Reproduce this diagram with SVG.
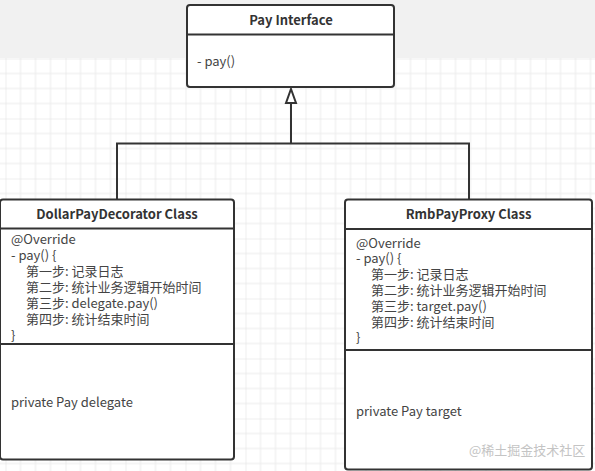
<svg xmlns="http://www.w3.org/2000/svg" width="595" height="471" viewBox="0 0 595 471">
<defs>
<pattern id="grid" patternUnits="userSpaceOnUse" x="5.5" y="58.5" width="60" height="60">
<rect width="60" height="60" fill="#ffffff"/>
<path d="M15 0V60M30 0V60M45 0V60M0 15H60M0 30H60M0 45H60" stroke="#ececec" stroke-width="1" fill="none"/>
<path d="M0 0V60M0 0H60" stroke="#e0e0e0" stroke-width="1" fill="none"/>
</pattern>
<marker id="tri" markerUnits="userSpaceOnUse" markerWidth="14" markerHeight="18" refX="7" refY="2" orient="auto-start-reverse" viewBox="0 0 14 18">
</marker>
</defs>
<style>
.box{fill:#ffffff;stroke:#333333;stroke-width:2}
.div{stroke:#333333;stroke-width:2}
.title{font-family:"Noto Sans CJK SC","Noto Sans",sans-serif;font-size:13px;font-weight:bold;fill:#333333;text-anchor:middle}
.txt{font-family:"Noto Sans CJK SC","Noto Sans",sans-serif;font-size:13px;fill:#444444}
.conn{fill:none;stroke:#333333;stroke-width:2}
.wm{font-family:"Noto Sans CJK SC",sans-serif;font-size:13px;fill:#c4c4c4}
</style>
<rect x="0" y="0" width="595" height="471" fill="#f1f1f1"/>
<rect x="0" y="58" width="595" height="413" fill="url(#grid)"/>

<g id="connectors">
<path class="conn" d="M117 199V143.5H469V199"/>
<path class="conn" d="M291 143.5V103"/>
<path d="M291 89L296 103H286Z" fill="#ffffff" stroke="#333333" stroke-width="2" stroke-linejoin="miter"/>
</g>

<g id="pay-interface">
<rect class="box" x="187" y="5" width="207" height="82" rx="3"/>
<line class="div" x1="187" y1="34.5" x2="394" y2="34.5"/>
<text class="title" x="291" y="24.5">Pay Interface</text>
<text class="txt" x="197" y="66">- pay()</text>
</g>

<g id="dollar-pay-decorator">
<rect class="box" x="0" y="199.5" width="234" height="260" rx="3"/>
<line class="div" x1="0" y1="228.5" x2="234" y2="228.5"/>
<line class="div" x1="0" y1="344" x2="234" y2="344"/>
<text class="title" x="117" y="219">DollarPayDecorator Class</text>
<text class="txt" x="11" y="243.5">@Override</text>
<text class="txt" x="11" y="259.5">- pay() {</text>
<text class="txt" x="26" y="275.5">第一步: 记录日志</text>
<text class="txt" x="26" y="291.5">第二步: 统计业务逻辑开始时间</text>
<text class="txt" x="26" y="307.5">第三步: delegate.pay()</text>
<text class="txt" x="26" y="323.5">第四步: 统计结束时间</text>
<text class="txt" x="11" y="339.5">}</text>
<text class="txt" x="11" y="407">private Pay delegate</text>
</g>

<g id="rmb-pay-proxy">
<rect class="box" x="345" y="199.5" width="247" height="270" rx="3"/>
<line class="div" x1="345" y1="229" x2="592" y2="229"/>
<line class="div" x1="345" y1="350" x2="592" y2="350"/>
<text class="title" x="468.5" y="219">RmbPayProxy Class</text>
<text class="txt" x="356" y="247.5">@Override</text>
<text class="txt" x="356" y="263.3">- pay() {</text>
<text class="txt" x="371" y="279.1">第一步: 记录日志</text>
<text class="txt" x="371" y="294.9">第二步: 统计业务逻辑开始时间</text>
<text class="txt" x="371" y="310.7">第三步: target.pay()</text>
<text class="txt" x="371" y="326.5">第四步: 统计结束时间</text>
<text class="txt" x="356" y="342.3">}</text>
<text class="txt" x="356" y="416">private Pay target</text>
</g>

<text class="wm" x="469" y="454.5">@稀土掘金技术社区</text>
</svg>
